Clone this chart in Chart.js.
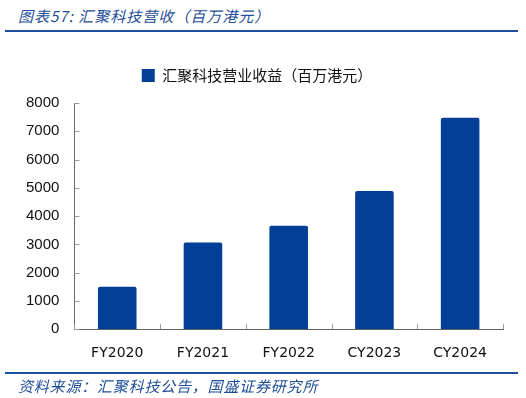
<!DOCTYPE html>
<html>
<head>
<meta charset="utf-8">
<script src="https://cdn.jsdelivr.net/npm/chart.js@4.4.1/dist/chart.umd.min.js"></script>
<style>
  body { margin: 0; background: #fff; width: 526px; height: 398px; position: relative; overflow: hidden; }
  .title { position: absolute; left: 18px; top: 5px; font: italic 15px "Noto Sans CJK SC", sans-serif; color: #1f4e9a; letter-spacing: 1px; }
  .rule { position: absolute; left: 5px; width: 513px; height: 2px; background: #1c4f9c; }
  .foot { position: absolute; left: 18px; top: 375px; font: italic 15px "Noto Sans CJK SC", sans-serif; color: #1f4e9a; letter-spacing: 0.8px; }
  #wrap { position: absolute; left: 0; top: 40px; width: 526px; height: 338px; }
</style>
</head>
<body>
<div class="title">图表57: 汇聚科技营收（百万港元）</div>
<div class="rule" style="top:30px"></div>
<div id="wrap"><canvas id="myChart"></canvas></div>
<div class="rule" style="top:372px"></div>
<div class="foot">资料来源：汇聚科技公告，国盛证券研究所</div>
<script>
var categories = ["FY2020", "FY2021", "FY2022", "CY2023", "CY2024"];
var revenue = [1500, 3070, 3660, 4890, 7480];
var seriesName = "汇聚科技营业收益（百万港元）";
var yTicks = [0, 1000, 2000, 3000, 4000, 5000, 6000, 7000, 8000];

// small tick marks drawn inward, like the source chart
var innerTicks = {
    id: 'innerTicks',
    afterDraw: function (chart) {
        var ctx = chart.ctx;
        var x = chart.scales.x, y = chart.scales.y;
        ctx.save();
        ctx.strokeStyle = '#999';
        ctx.lineWidth = 1;
        ctx.beginPath();
        yTicks.forEach(function (v) {
            var py = Math.round(y.getPixelForValue(v)) + 0.5;
            ctx.moveTo(x.left, py);
            ctx.lineTo(x.left + 5, py);
        });
        for (var i = 0; i <= categories.length; i++) {
            var px = Math.round(x.getPixelForValue(i - 0.5)) + 0.5;
            ctx.moveTo(px, y.bottom);
            ctx.lineTo(px, y.bottom - 5);
        }
        ctx.stroke();
        ctx.restore();
    }
};

// extra space between legend and plot
var legendGap = {
    id: 'legendGap',
    beforeInit: function (chart) {
        var fit = chart.legend.fit;
        chart.legend.fit = function () {
            fit.bind(chart.legend)();
            this.height += 10;
        };
    }
};

function renderChart() {
    var ctx = document.getElementById("myChart").getContext('2d');
    new Chart(ctx, {
        type: 'bar',
        data: {
            labels: categories,
            datasets: [{
                label: seriesName,
                data: revenue,
                backgroundColor: '#013f96',
                borderRadius: 2,
                borderSkipped: 'bottom',
                categoryPercentage: 1,
                barPercentage: 0.45
            }]
        },
        options: {
            responsive: true,
            maintainAspectRatio: false,
            animation: false,
            layout: { padding: { left: 11, right: 23, top: 18, bottom: 0 } },
            plugins: {
                tooltip: { enabled: false },
                legend: {
                    position: 'top',
                    labels: {
                        boxWidth: 13,
                        boxHeight: 13,
                        padding: 10,
                        color: '#111',
                        font: { family: '"Noto Sans CJK SC", sans-serif', size: 15 }
                    }
                }
            },
            scales: {
                x: {
                    offset: true,
                    grid: { display: false, drawTicks: false },
                    border: { display: true, color: '#666', width: 1 },
                    ticks: {
                        color: '#111',
                        padding: 16,
                        font: { family: '"DejaVu Sans", sans-serif', size: 14 }
                    }
                },
                y: {
                    min: 0,
                    max: 8000,
                    afterBuildTicks: function (scale) {
                        scale.ticks = yTicks.map(function (v) { return { value: v }; });
                    },
                    grid: { display: false, drawTicks: false },
                    border: { display: true, color: '#666', width: 1 },
                    ticks: {
                        color: '#111',
                        padding: 15,
                        font: { family: '"Liberation Sans", Arial, sans-serif', size: 15 },
                        callback: function (v) { return String(v); }
                    }
                }
            }
        },
        plugins: [innerTicks, legendGap]
    });
}

renderChart();
</script>
</body>
</html>
